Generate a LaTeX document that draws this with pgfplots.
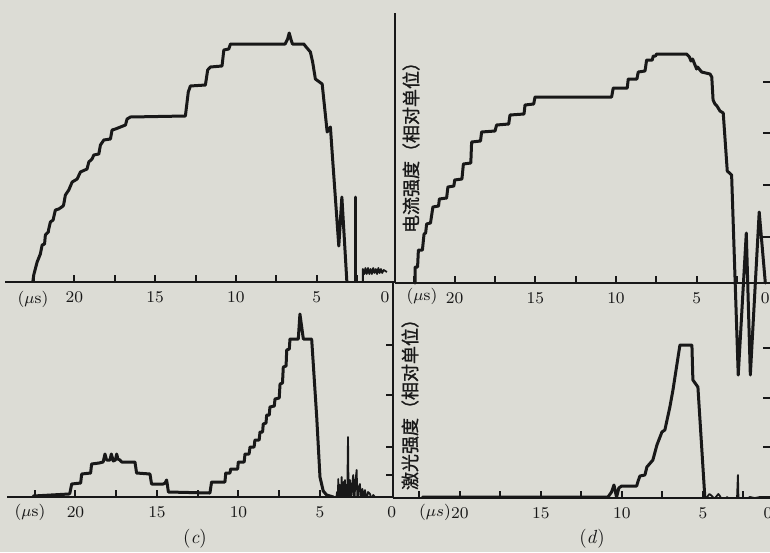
\documentclass[border=0pt]{standalone}
\usepackage{fontspec}
\usepackage{pgfplots}
\pgfplotsset{compat=1.18}
\newfontfamily\cjk{Noto Sans CJK SC}[FakeBold=1.2]
\definecolor{paper}{RGB}{220,220,213}
\definecolor{ink}{RGB}{24,24,24}

\pgfplotsset{
  trace/.style={
    scale only axis, x dir=reverse, anchor=south west,
    axis x line*=bottom,
    axis line style={ink, line width=1.1pt, -},
    xtick={2.5,5,7.5,10,12.5,15,17.5,20,22.5},
    xticklabels={,5,,10,,15,,20,},
    xtick align=inside, major tick length=3.5pt,
    tick style={ink, line width=1pt},
    tick label style={font=\fontsize{8.2}{9}\selectfont, ink},
    xticklabel style={yshift=-1.5pt},
    extra x tick style={major tick length=0pt},
    extra x tick labels={0},
    ytick=\empty,
  },
  curve/.style={ink, line width=1.5pt, no marks, line join=round, line cap=round},
  noise/.style={ink, line width=0.9pt, no marks, line join=round},
}

\begin{document}
\begin{tikzpicture}
\path[use as bounding box] (0pt,0pt) rectangle (385pt,-276pt);
\clip (0pt,0pt) rectangle (385pt,-276pt);
\fill[paper] (0pt,0pt) rectangle (385pt,-276pt);

% (c) upper: discharge current
\begin{axis}[trace, at={(2.5pt,-141pt)}, width=195pt, height=133.5pt,
  xmin=0.15, xmax=24.3, ymin=0, ymax=267, axis y line*=right,
  extra x ticks={0.77}]
\addplot[curve] coordinates {(22.58,0)(22.52,7)(22.31,20)(22.11,28)(22.00,37)(21.85,38)(21.80,47)(21.62,50)(21.59,53)(21.49,60)(21.32,62)(21.28,65)(21.18,72)(20.97,73)(20.70,76)(20.66,78)(20.56,87)(20.35,92)(20.14,100)(19.83,103)(19.63,110)(19.22,113)(19.11,120)(18.91,123)(18.80,127)(18.49,128)(18.39,137)(18.18,142)(17.77,143)(17.67,152)(17.46,153)(17.15,155)(16.84,157)(16.74,163)(16.53,165)(13.13,166)(12.95,190)(12.82,196)(11.89,197)(11.75,212)(11.58,215)(10.86,216)(10.75,232)(10.44,233)(10.34,238)(6.95,238)(6.80,243)(6.70,249)(6.60,243)(6.50,238)(5.80,238)(5.60,234)(5.39,230)(5.25,220)(5.08,203)(4.66,198)(4.35,150)(4.15,155)(4.00,120)(3.63,36)(3.44,85)(3.13,0)};
\addplot[curve] coordinates {(2.57,0)(2.57,85)};
\addplot[noise] coordinates {(2.14,0)(2.14,13)(2.05,8)(1.98,14)(1.90,8)(1.82,14)(1.74,8)(1.66,13)(1.58,8)(1.50,14)(1.42,9)(1.34,13)(1.26,8)(1.18,14)(1.10,9)(1.02,13)(0.94,9)(0.85,12)(0.65,10)};
\end{axis}

% (c) lower: laser output
\begin{axis}[trace, at={(3.5pt,-248.5pt)}, width=193pt, height=107pt,
  xmin=0.52, xmax=24.2, ymin=0, ymax=214, axis y line*=right,
  ytick={22,50,102,152}, yticklabels={}, ytick align=inside,
  extra x ticks={0.6}]
\addplot[curve] coordinates {(22.59,1)(20.40,3)(20.34,4)(20.23,13)(19.68,14)(19.62,23)(19.07,24)(19.01,33)(18.55,34)(18.30,35)(18.19,43)(18.09,37)(17.88,37)(17.80,43)(17.68,36)(17.55,37)(17.47,43)(17.40,38)(17.27,37)(17.17,35)(16.35,35)(16.25,24)(15.43,23)(15.33,13)(14.61,13)(14.50,14)(14.41,17)(14.36,12)(14.30,5)(11.75,4)(11.65,15)(10.83,15)(10.78,24)(10.52,24)(10.48,28)(10.05,28)(10.01,35)(9.65,35)(9.60,43)(9.35,43)(9.29,50)(9.04,50)(8.99,57)(8.73,57)(8.68,65)(8.52,65)(8.48,73)(8.31,74)(8.27,82)(8.11,82)(8.07,90)(7.80,91)(7.76,98)(7.50,99)(7.45,113)(7.30,114)(7.25,130)(7.08,131)(7.04,147)(6.88,148)(6.84,158)(6.33,158)(6.23,183)(6.02,158)(5.51,158)(5.20,80)(5.00,20)(4.80,6)(4.59,2)(4.18,0)};
\addplot[noise] coordinates {(4.10,0)(4.02,-4)(3.95,5)(3.90,-6)(3.88,18)(3.83,-7)(3.78,12)(3.72,-5)(3.67,20)(3.62,-7)(3.55,15)(3.50,-6)(3.47,17)(3.40,-8)(3.32,10)(3.28,60)(3.24,-8)(3.16,17)(3.10,-6)(3.03,12)(2.96,22)(2.90,-7)(2.83,15)(2.75,27)(2.70,-6)(2.62,10)(2.55,13)(2.48,-5)(2.40,8)(2.30,-4)(2.24,7)(2.15,-3)(2.05,5)(1.93,3)(1.85,-2)(1.73,2)(1.63,0)};
\end{axis}

% (d) upper: discharge current
\begin{axis}[trace, at={(197.5pt,-141.5pt)}, width=187.5pt, height=135pt,
  xmin=0.45, xmax=23.7, ymin=0, ymax=270, axis y line*=left, clip=false,
  extra x ticks={0.74}]
\addplot[curve] coordinates {(22.46,0)(22.46,16)(22.30,16)(22.25,33)(22.00,33)(21.90,49)(21.80,50)(21.74,59)(21.50,60)(21.35,76)(21.00,77)(20.95,84)(20.50,85)(20.42,96)(20.05,97)(20.00,103)(19.55,104)(19.46,119)(19.00,120)(18.95,141)(18.40,142)(18.33,151)(17.50,152)(17.40,158)(16.65,159)(16.57,168)(15.70,169)(15.64,178)(15.10,179)(15.02,186)(10.27,186)(10.17,195)(9.30,195)(9.24,204)(8.70,204)(8.62,211)(8.20,212)(8.10,223)(7.75,223)(7.69,227)(7.55,227)(7.48,229)(5.62,229)(5.45,226)(5.35,222)(5.25,224)(5.10,218)(5.00,214)(4.94,216)(4.69,211)(4.17,209)(4.06,206)(3.98,183)(3.86,179)(3.74,177)(3.55,172)(3.35,170)(3.10,112)(2.83,108)(2.42,-92)(1.92,50)(1.67,-92)(1.12,71)(0.74,0)};
\end{axis}

% (d) lower: laser output
\begin{axis}[trace, at={(196.5pt,-249pt)}, width=188.5pt, height=99pt,
  xmin=0.86, xmax=24.13, ymin=0, ymax=198, axis y line*=left,
  extra x ticks={0.99}]
\addplot[curve] coordinates {(22.3,1)(11.0,1)(10.86,1)(10.64,6)(10.49,13)(10.36,3)(10.33,1)(10.19,10)(10.02,12)(9.09,12)(9.00,17)(8.89,22)(8.58,23)(8.46,31)(8.09,38)(7.84,53)(7.53,66)(7.35,68)(7.04,91)(6.85,108)(6.42,153)(5.68,153)(5.62,118)(5.31,111)(4.88,0)};
\addplot[noise] coordinates {(4.88,0)(4.75,1)(4.60,4)(4.44,2)(4.30,-1)(4.20,1)(4.05,4)(3.95,2)(3.80,-3)(3.64,-1)(3.50,1)(3.33,-2)(3.20,-5)(3.02,-4)(2.90,-2)(2.84,23)(2.80,-6)(2.70,-3)(2.59,-5)(2.41,-7)(2.30,-1)(2.10,1)(1.79,0)(1.48,1)(0.86,1)};
\end{axis}

\begin{scope}[x=0.5pt,y=-0.5pt, ink]
\node[font=\fontsize{8.2}{9}\selectfont] at (33,299) {($\mu$s)};
\node[font=\fontsize{8.2}{9}\selectfont] at (30,512) {($\mu$s)};
\node[font=\fontsize{8.2}{9}\selectfont] at (422,296) {($\mu$s)};
\node[font=\fontsize{8.2}{9}\selectfont] at (435,512) {($\mu s$)};
\node[font=\fontsize{9.5}{11}\selectfont] at (195,539) {(\textit{c})};
\node[font=\fontsize{9.5}{11}\selectfont] at (592,539) {(\textit{d})};
\node[rotate=90, font=\cjk\fontsize{9}{10}\selectfont] at (411,143) {电流强度（相对单位）};
\node[rotate=90, font=\cjk\fontsize{9}{10}\selectfont] at (410,400) {激光强度（相对单位）};
\foreach \yy in {82,133,185,237,348,398,447}
  \draw[line width=1pt] (763,\yy) -- (772,\yy);
\end{scope}
\end{tikzpicture}
\end{document}
